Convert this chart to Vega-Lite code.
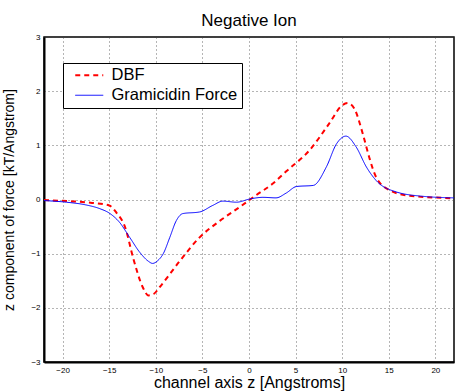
{
  "$schema": "https://vega.github.io/schema/vega-lite/v6.json",
  "width": 410,
  "height": 325,
  "autosize": "none",
  "padding": {"left": 44, "top": 37, "right": 2, "bottom": 29},
  "background": "white",
  "config": {
    "font": "Liberation Sans",
    "view": {"stroke": "black", "strokeWidth": 1.5},
    "axis": {
      "labelFont": "Liberation Sans",
      "titleFont": "Liberation Sans",
      "labelFontSize": 8,
      "labelColor": "black",
      "titleFontSize": 14,
      "titleFontWeight": "normal",
      "titleColor": "black",
      "domainColor": "black",
      "domainWidth": 2,
      "grid": true,
      "gridColor": "#444",
      "gridDash": [1, 3],
      "gridWidth": 0.8,
      "ticks": false,
      "labelPadding": 4
    }
  },
  "title": {
    "text": "Negative Ion",
    "font": "Liberation Sans",
    "fontSize": 17,
    "fontWeight": "normal",
    "color": "black",
    "offset": 3
  },
  "data": {
    "values": [
      {"z": -22, "f": -0.01, "s": "DBF"},
      {"z": -19.5, "f": -0.03, "s": "DBF"},
      {"z": -17, "f": -0.06, "s": "DBF"},
      {"z": -15, "f": -0.11, "s": "DBF"},
      {"z": -14.2, "f": -0.25, "s": "DBF"},
      {"z": -13.3, "f": -0.51, "s": "DBF"},
      {"z": -12.4, "f": -1.1, "s": "DBF"},
      {"z": -11.4, "f": -1.62, "s": "DBF"},
      {"z": -10.8, "f": -1.77, "s": "DBF"},
      {"z": -10.2, "f": -1.74, "s": "DBF"},
      {"z": -9.6, "f": -1.62, "s": "DBF"},
      {"z": -7.4, "f": -1.13, "s": "DBF"},
      {"z": -5.3, "f": -0.7, "s": "DBF"},
      {"z": -3.1, "f": -0.39, "s": "DBF"},
      {"z": -1.0, "f": -0.14, "s": "DBF"},
      {"z": 0.6, "f": 0.06, "s": "DBF"},
      {"z": 2.6, "f": 0.3, "s": "DBF"},
      {"z": 4.0, "f": 0.52, "s": "DBF"},
      {"z": 6.5, "f": 0.91, "s": "DBF"},
      {"z": 8.6, "f": 1.4, "s": "DBF"},
      {"z": 10.0, "f": 1.74, "s": "DBF"},
      {"z": 10.6, "f": 1.78, "s": "DBF"},
      {"z": 11.3, "f": 1.68, "s": "DBF"},
      {"z": 12.2, "f": 1.22, "s": "DBF"},
      {"z": 12.9, "f": 0.78, "s": "DBF"},
      {"z": 13.65, "f": 0.41, "s": "DBF"},
      {"z": 15.1, "f": 0.17, "s": "DBF"},
      {"z": 17.2, "f": 0.07, "s": "DBF"},
      {"z": 20.8, "f": 0.03, "s": "DBF"},
      {"z": 22, "f": 0.02, "s": "DBF"},
      {"z": -22, "f": -0.02, "s": "Gramicidin Force"},
      {"z": -19.6, "f": -0.05, "s": "Gramicidin Force"},
      {"z": -17.5, "f": -0.1, "s": "Gramicidin Force"},
      {"z": -16, "f": -0.17, "s": "Gramicidin Force"},
      {"z": -15, "f": -0.25, "s": "Gramicidin Force"},
      {"z": -13.9, "f": -0.42, "s": "Gramicidin Force"},
      {"z": -12.8, "f": -0.7, "s": "Gramicidin Force"},
      {"z": -11.7, "f": -0.98, "s": "Gramicidin Force"},
      {"z": -10.8, "f": -1.14, "s": "Gramicidin Force"},
      {"z": -10.35, "f": -1.18, "s": "Gramicidin Force"},
      {"z": -9.8, "f": -1.13, "s": "Gramicidin Force"},
      {"z": -9.2, "f": -1.0, "s": "Gramicidin Force"},
      {"z": -8.5, "f": -0.7, "s": "Gramicidin Force"},
      {"z": -7.8, "f": -0.39, "s": "Gramicidin Force"},
      {"z": -7.1, "f": -0.26, "s": "Gramicidin Force"},
      {"z": -5.3, "f": -0.23, "s": "Gramicidin Force"},
      {"z": -3.9, "f": -0.11, "s": "Gramicidin Force"},
      {"z": -2.8, "f": -0.03, "s": "Gramicidin Force"},
      {"z": -1.35, "f": -0.05, "s": "Gramicidin Force"},
      {"z": 0.1, "f": 0.01, "s": "Gramicidin Force"},
      {"z": 1.5, "f": 0.04, "s": "Gramicidin Force"},
      {"z": 2.9, "f": 0.03, "s": "Gramicidin Force"},
      {"z": 4.0, "f": 0.12, "s": "Gramicidin Force"},
      {"z": 5.1, "f": 0.24, "s": "Gramicidin Force"},
      {"z": 6.9, "f": 0.26, "s": "Gramicidin Force"},
      {"z": 8.3, "f": 0.6, "s": "Gramicidin Force"},
      {"z": 9.4, "f": 1.03, "s": "Gramicidin Force"},
      {"z": 10.4, "f": 1.17, "s": "Gramicidin Force"},
      {"z": 11.5, "f": 0.97, "s": "Gramicidin Force"},
      {"z": 12.6, "f": 0.6, "s": "Gramicidin Force"},
      {"z": 13.65, "f": 0.35, "s": "Gramicidin Force"},
      {"z": 15.8, "f": 0.14, "s": "Gramicidin Force"},
      {"z": 18.6, "f": 0.06, "s": "Gramicidin Force"},
      {"z": 22, "f": 0.03, "s": "Gramicidin Force"}
    ]
  },
  "mark": {"type": "line", "interpolate": "monotone", "clip": true},
  "encoding": {
    "x": {
      "field": "z", "type": "quantitative",
      "scale": {"domain": [-22, 22], "nice": false},
      "axis": {"values": [-20, -15, -10, -5, 0, 5, 10, 15, 20], "title": "channel axis z [Angstroms]", "titleFontSize": 16, "titlePadding": 0}
    },
    "y": {
      "field": "f", "type": "quantitative",
      "scale": {"domain": [-3, 3], "nice": false},
      "axis": {"values": [-3, -2, -1, 0, 1, 2, 3], "title": "z component of force [kT/Angstrom]", "titlePadding": 14}
    },
    "color": {
      "field": "s", "type": "nominal",
      "scale": {"domain": ["DBF", "Gramicidin Force"], "range": ["#ff0000", "#0000ff"]},
      "legend": {
        "title": null,
        "orient": "none",
        "legendX": 19,
        "legendY": 26,
        "strokeColor": "black",
        "fillColor": "white",
        "padding": 4,
        "labelFontSize": 16.5,
        "labelFont": "Liberation Sans",
        "labelColor": "black",
        "symbolType": "M0,0H4",
        "symbolSize": 196,
        "rowPadding": 3,
        "labelOffset": 28
      }
    },
    "strokeDash": {
      "field": "s", "type": "nominal",
      "scale": {"domain": ["DBF", "Gramicidin Force"], "range": [[5, 4], [1, 0]]},
      "legend": null
    },
    "strokeWidth": {
      "field": "s", "type": "nominal",
      "scale": {"domain": ["DBF", "Gramicidin Force"], "range": [2, 1]},
      "legend": null
    }
  }
}
